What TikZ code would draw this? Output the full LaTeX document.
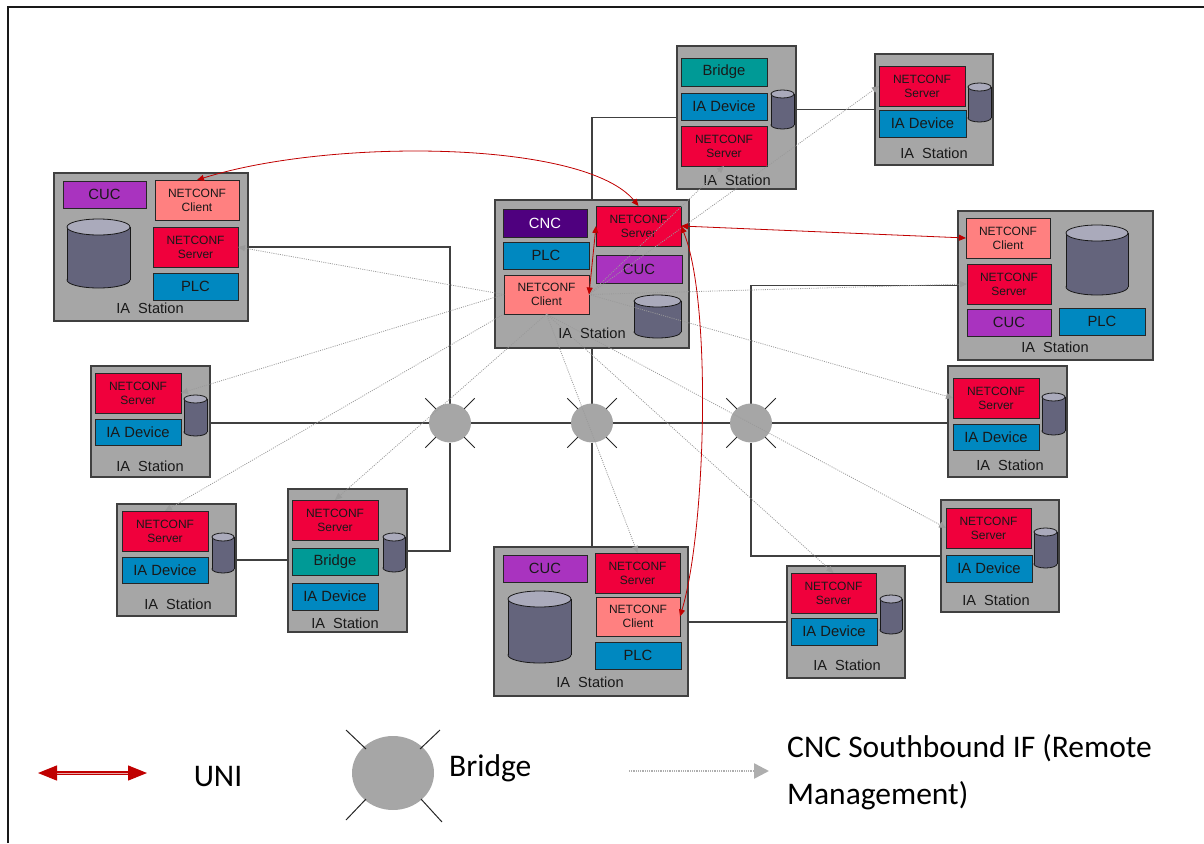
\documentclass[tikz,border=0pt]{standalone}
\usepackage{fontspec}
\setmainfont{Liberation Sans}
\newfontfamily\legfont{Carlito}
\usetikzlibrary{shapes.geometric,arrows.meta,backgrounds}
\definecolor{stgray}{HTML}{A6A6A6}
\definecolor{cucC}{HTML}{A933BF}
\definecolor{clC}{HTML}{FF8080}
\definecolor{svC}{HTML}{F0003C}
\definecolor{plcC}{HTML}{0088C0}
\definecolor{brC}{HTML}{009A96}
\definecolor{cncC}{HTML}{4F007F}
\definecolor{cylB}{HTML}{64647C}
\definecolor{cylT}{HTML}{AAAABB}
\definecolor{uniC}{HTML}{C00000}
\definecolor{sbC}{HTML}{9A9A9A}
\definecolor{lineC}{HTML}{404040}
\tikzset{
  comp/.style={draw=black!85, line width=0.7pt, inner sep=0pt, outer sep=0pt, align=center, text=black!90, font=\fontsize{14.8}{16}\selectfont},
  nc/.style={comp, font=\fontsize{12}{13.8}\selectfont},
  cuc/.style={comp, fill=cucC},
  cl/.style={nc, fill=clC},
  sv/.style={nc, fill=svC},
  plc/.style={comp, fill=plcC},
  brg/.style={comp, fill=brC},
  cnc/.style={comp, fill=cncC, text=white},
  station/.style={draw=black!75, fill=stgray, line width=1.1pt, inner sep=0pt, outer sep=0pt},
  stlabel/.style={inner sep=0pt, text=black!90, font=\fontsize{14.6}{16}\selectfont},
  cylbody/.style={fill=cylB},
  cylline/.style={draw=black!90, line width=0.8pt},
  net/.style={draw=lineC, line width=1.1pt},
  bridgenode/.style={ellipse, fill=stgray, draw=none, inner sep=0pt, outer sep=0pt},
  spoke/.style={draw=black!85, line width=1pt},
  uni/.style={draw=uniC, line width=0.8pt, {Triangle[length=7pt,width=6pt]}-{Triangle[length=7pt,width=6pt]}},
  sb/.style={draw=sbC, line width=0.8pt, dash pattern=on 1pt off 1.2pt, -{Triangle[length=7pt,width=6pt]}},
  legtext/.style={inner sep=0pt, font=\legfont\fontsize{31.5}{36}\selectfont},
}
\newcommand\blk[7]{%
  \pgfmathsetmacro\myw{#5-#3}%
  \pgfmathsetmacro\myh{#6-#4}%
  \node[#2, minimum width=\myw pt, minimum height=\myh pt] (#1) at ({(#3+#5)/2},{(#4+#6)/2}) {#7};}
\newcommand\cyl[5]{%
  \pgfmathsetmacro\mycx{(#1+#3)/2}%
  \pgfmathsetmacro\myrx{(#3-#1)/2}%
  \filldraw[cylbody, cylline] (\mycx,{#4-#5}) ellipse [x radius=\myrx, y radius=#5];
  \fill[cylbody] ({#1},{#2+#5}) rectangle ({#3},{#4-#5});
  \draw[cylline] ({#1},{#2+#5}) -- ({#1},{#4-#5}) ({#3},{#2+#5}) -- ({#3},{#4-#5});
  \filldraw[fill=cylT, cylline] (\mycx,{#2+#5}) ellipse [x radius=\myrx, y radius=#5];}
\begin{document}
\begin{tikzpicture}[x=1pt,y=-1pt]
\useasboundingbox (0,0) rectangle (1204,843);
\draw[line width=2pt, black!90] (8,843) -- (8,7) -- (1204,7);

% Station A
\blk{stA}{station}{54}{173}{248}{321}{}
\blk{aCuc}{cuc}{63}{181}{146}{208}{CUC}
\blk{aCl}{cl}{155}{180}{239}{220}{NETCONF\\Client}
\blk{aSv}{sv}{153}{227}{238}{267}{NETCONF\\Server}
\blk{aPlc}{plc}{153}{273}{238}{300}{PLC}
\cyl{67}{219}{130}{288}{8}
\node[stlabel] (aLab) at (150,308) {IA\ \ Station};

% Station B
\blk{stB}{station}{495}{200}{689}{348}{}
\blk{bCnc}{cnc}{503}{209}{587}{237}{CNC}
\blk{bSv}{sv}{596}{206}{681}{246}{NETCONF\\Server}
\blk{bPlc}{plc}{503}{242}{589}{269}{PLC}
\blk{bCuc}{cuc}{596}{255}{682}{283}{CUC}
\blk{bCl}{cl}{504}{275}{589}{314}{NETCONF\\Client}
\cyl{634}{295}{681}{338}{6}
\node[stlabel] (bLab) at (592,333) {IA\ \ Station};

% Station C
\blk{stC}{station}{677}{46}{796}{189}{}
\blk{cBr}{brg}{681}{58}{767}{86}{Bridge}
\blk{cDev}{plc}{681}{93}{767}{120}{IA Device}
\blk{cSv}{sv}{681}{126}{767}{166}{NETCONF\\Server}
\cyl{771}{90}{794}{129}{4}
\node[stlabel] (cLab) at (737,180) {IA\ \ Station};

% Station D
\blk{stD}{station}{875}{54}{993}{165}{}
\blk{dSv}{sv}{879}{66}{965}{106}{NETCONF\\Server}
\blk{dDev}{plc}{879}{110}{966}{137}{IA Device}
\cyl{968}{83}{991}{122}{4}
\node[stlabel] (dLab) at (934,153) {IA\ \ Station};

% Station E
\blk{stE}{station}{958}{211}{1153}{360}{}
\blk{eCl}{cl}{966}{218}{1050}{258}{NETCONF\\Client}
\blk{eSv}{sv}{967}{264}{1051}{304}{NETCONF\\Server}
\blk{eCuc}{cuc}{967}{309}{1051}{336}{CUC}
\blk{ePlc}{plc}{1059}{308}{1145}{335}{PLC}
\cyl{1066}{225}{1128}{295}{8}
\node[stlabel] (eLab) at (1055,347) {IA\ \ Station};

% Station F
\blk{stF}{station}{91}{366}{210}{477}{}
\blk{fSv}{sv}{95}{373}{181}{413}{NETCONF\\Server}
\blk{fDev}{plc}{95}{419}{181}{445}{IA Device}
\cyl{184}{395}{207}{436}{4}
\node[stlabel] (fLab) at (150,466) {IA\ \ Station};

% Station G
\blk{stG}{station}{948}{366}{1067}{477}{}
\blk{gSv}{sv}{953}{378}{1039}{418}{NETCONF\\Server}
\blk{gDev}{plc}{953}{424}{1039}{450}{IA Device}
\cyl{1042}{393}{1065}{435}{4}
\node[stlabel] (gLab) at (1010,465) {IA\ \ Station};

% Station H
\blk{stH}{station}{117}{504}{236}{616}{}
\blk{hSv}{sv}{122}{511}{208}{551}{NETCONF\\Server}
\blk{hDev}{plc}{122}{557}{208}{583}{IA Device}
\cyl{212}{533}{234}{573}{4}
\node[stlabel] (hLab) at (178,604) {IA\ \ Station};

% Station I
\blk{stI}{station}{288}{489}{407}{632}{}
\blk{iSv}{sv}{292}{500}{378}{540}{NETCONF\\Server}
\blk{iBr}{brg}{292}{548}{378}{575}{Bridge}
\blk{iDev}{plc}{292}{583}{378}{610}{IA Device}
\cyl{383}{533}{405}{572}{4}
\node[stlabel] (iLab) at (345,623) {IA\ \ Station};

% Station J
\blk{stJ}{station}{494}{547}{688}{696}{}
\blk{jCuc}{cuc}{503}{555}{587}{582}{CUC}
\blk{jSv}{sv}{595}{553}{680}{593}{NETCONF\\Server}
\blk{jCl}{cl}{596}{597}{680}{636}{NETCONF\\Client}
\blk{jPlc}{plc}{595}{642}{681}{669}{PLC}
\cyl{508}{591}{571}{663}{8}
\node[stlabel] (jLab) at (590,682) {IA\ \ Station};

% Station K
\blk{stK}{station}{787}{566}{905}{678}{}
\blk{kSv}{sv}{791}{573}{876}{613}{NETCONF\\Server}
\blk{kDev}{plc}{791}{618}{877}{645}{IA Device}
\cyl{880}{595}{902}{634}{4}
\node[stlabel] (kLab) at (847,665) {IA\ \ Station};

% Station L
\blk{stL}{station}{941}{500}{1059}{612}{}
\blk{lSv}{sv}{946}{508}{1031}{548}{NETCONF\\Server}
\blk{lDev}{plc}{946}{555}{1032}{582}{IA Device}
\cyl{1034}{528}{1057}{568}{4}
\node[stlabel] (lLab) at (996,600) {IA\ \ Station};

% Bridges
\node[bridgenode, minimum width=42pt, minimum height=39pt] (b1) at (450,423) {};
\node[bridgenode, minimum width=42pt, minimum height=39pt] (b2) at (592,423) {};
\node[bridgenode, minimum width=42pt, minimum height=39pt] (b3) at (751,423) {};
\foreach \b in {b1,b2,b3}
  \foreach \a in {45,135,225,315}
    \draw[spoke] (\b.center) ++(\a:20) -- ++(\a:15);

% Network lines
\begin{pgfonlayer}{background}
\draw[net] (stF.east |- b1) -- (stG.west |- b3);
\draw[net] (b1) |- (stA.east);
\draw[net] (b1) |- ([yshift=9.5pt]stI.east);
\draw[net] (stH.east) -- (stH.east -| stI.west);
\draw[net] (b2) -- (b2 |- stB.south);
\draw[net] (b2 |- stB.north) |- (stC.west);
\draw[net] (b2) -- (b2 |- stJ.north);
\draw[net] (stD.west -| stC.east) -- (stD.west);
\draw[net] (b3) |- (stE.west);
\draw[net] (b3) |- (stL.west);
\draw[net] (stK.west -| stJ.east) -- (stK.west);
\end{pgfonlayer}

% CNC southbound (dotted)
\foreach \t in {aSv.east, fSv.east} \draw[sb] (bCl.west) -- (\t);
\draw[sb] (bCl.south west) -- (hSv.north);
\foreach \t in {iSv.north, jSv.north, kSv.north, lSv.west} \draw[sb] (bCl.south) -- (\t);
\foreach \t in {gSv.west, eSv.west, cSv.south, dSv.west} \draw[sb] (bCl.east) -- (\t);

% UNI (red)
\draw[uni] (aCl.north) .. controls (330,138) and (585,140) .. (bSv.north);
\draw[uni] (bSv.east) -- (eCl.west);
\draw[uni] (bSv.west) -- (bCl.east);
\draw[uni] (bSv.east) .. controls (712,300) and (706,530) .. (jCl.east);

% Legend
\coordinate (uL) at (38,773);
\coordinate (uR) at (147,773);
\draw[draw=uniC, line width=1.3pt, double=uniC!35!white, double distance=1pt,
  {Triangle[length=19pt,width=15pt]}-{Triangle[length=19pt,width=15pt]}] (uL) -- (uR);
\node[legtext] (lgUni) at (218,776) {UNI};
\node[bridgenode, minimum width=82pt, minimum height=74pt] (lgB) at (393,773) {};
\draw[spoke] (346,730) -- (366,749);
\draw[spoke] (440,730) -- (420,749);
\draw[spoke] (346,820) -- (366,799);
\draw[spoke] (442,822) -- (421,799);
\node[legtext, anchor=west] (lgBr) at (449,768) {Bridge};
\coordinate (sL) at (629,771);
\coordinate (sR) at (769,771);
\draw[draw=sbC!80!white, line width=2.5pt, dash pattern=on 1pt off 0.8pt,
  -{Triangle[length=15pt,width=15pt]}] (sL) -- (sR);
\node[legtext, anchor=west] (lgT1) at (787,748) {CNC Southbound IF (Remote};
\node[legtext, anchor=west] (lgT2) at (787,796) {Management)};
\end{tikzpicture}
\end{document}
